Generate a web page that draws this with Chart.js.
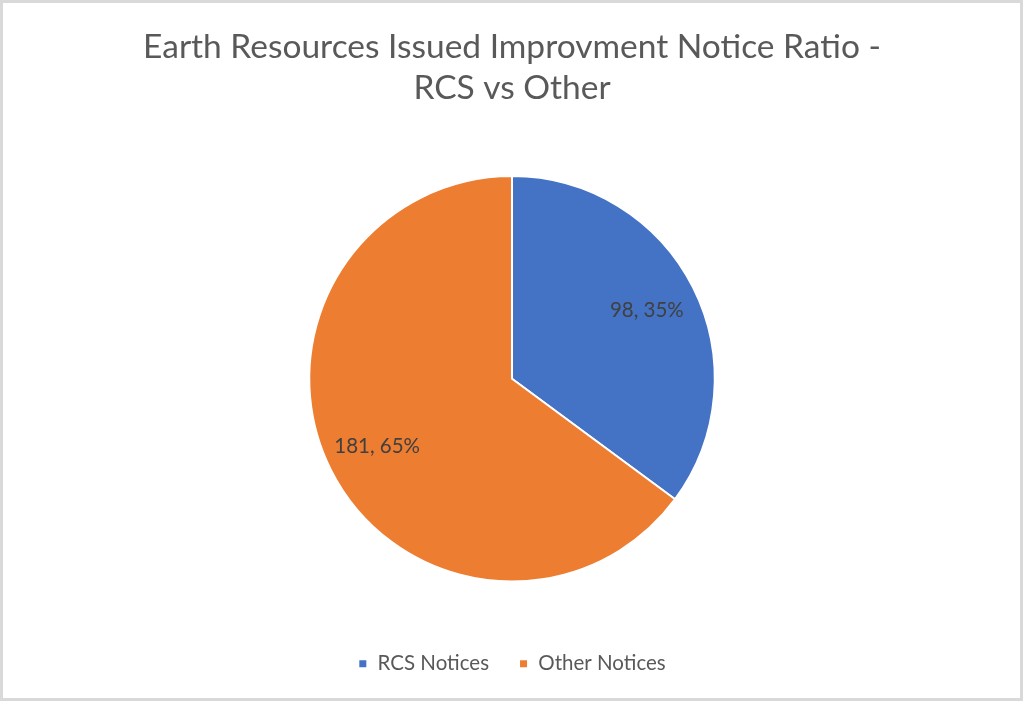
<!DOCTYPE html>
<html>
<head>
<meta charset="utf-8">
<script src="https://cdn.jsdelivr.net/npm/chart.js@4/dist/chart.umd.min.js"></script>
<style>
  html, body { margin: 0; padding: 0; background: #ffffff; }
  #wrap { width: 1024px; height: 703px; position: relative; }
  canvas { display: block; }
</style>
</head>
<body>
<div id="wrap"><canvas id="c" width="1024" height="703"></canvas></div>
<script>
const titleLines = ['Earth Resources Issued Improvment Notice Ratio -', 'RCS vs Other'];
const categories = ['RCS Notices', 'Other Notices'];
const values = [98, 181];
const colors = ['#4472C4', '#ED7D31'];
const FONT = 'Lato, "Open Sans", sans-serif';

const frame = {
  id: 'frame',
  afterDraw(chart) {
    const ctx = chart.ctx;
    ctx.save();
    ctx.strokeStyle = '#d9d9d9';
    ctx.lineWidth = 3;
    ctx.strokeRect(1.5, 1.5, chart.width - 4, chart.height - 5);
    ctx.restore();
  }
};

const dataLabels = {
  id: 'dataLabels',
  afterDatasetsDraw(chart) {
    const ctx = chart.ctx;
    const meta = chart.getDatasetMeta(0);
    const data = chart.data.datasets[0].data;
    const total = data.reduce((a, b) => a + b, 0);
    ctx.save();
    ctx.font = '20.5px ' + FONT;
    ctx.fillStyle = '#404040';
    ctx.textAlign = 'center';
    ctx.textBaseline = 'middle';
    meta.data.forEach((arc, i) => {
      const p = arc.getProps(['x', 'y', 'startAngle', 'endAngle', 'outerRadius'], true);
      const mid = (p.startAngle + p.endAngle) / 2;
      const r = p.outerRadius * 0.745;
      const x = p.x + Math.cos(mid) * r;
      const y = p.y + Math.sin(mid) * r;
      const pct = Math.round(data[i] / total * 100);
      ctx.fillText(data[i] + ', ' + pct + '%', x, y);
    });
    ctx.restore();
  }
};

new Chart(document.getElementById('c'), {
  type: 'pie',
  data: {
    labels: categories,
    datasets: [{
      data: values,
      backgroundColor: colors,
      borderColor: '#ffffff',
      borderWidth: 2
    }]
  },
  options: {
    responsive: false,
    animation: false,
    layout: { padding: { top: 0, bottom: 19, left: 0, right: 0 } },
    plugins: {
      title: {
        display: true,
        text: titleLines,
        color: '#595959',
        font: { family: FONT, size: 33.5, weight: 'normal', lineHeight: 1.224 },
        padding: { top: 26.5, bottom: 66.5 }
      },
      legend: {
        position: 'bottom',
        title: { display: true, text: ' ', font: { size: 12 }, padding: 13.3 },
        labels: {
          boxWidth: 9,
          boxHeight: 9,
          padding: 30,
          color: '#595959',
          font: { family: FONT, size: 20.5 }
        }
      },
      tooltip: { enabled: false }
    }
  },
  plugins: [dataLabels, frame]
});
</script>
</body>
</html>
